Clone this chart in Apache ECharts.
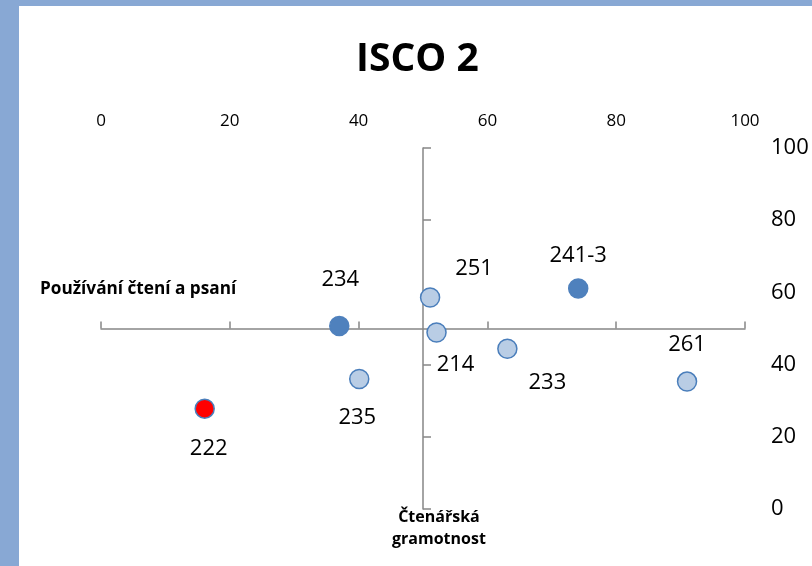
<!DOCTYPE html>
<html>
<head>
<meta charset="utf-8">
<script src="https://cdn.jsdelivr.net/npm/echarts@6/dist/echarts.min.js"></script>
<style>
html,body{margin:0;padding:0;background:#88A8D4;}
#wrap{position:absolute;left:19px;top:6px;width:793px;height:560px;background:#ffffff;}
#chart{position:absolute;left:-19px;top:-6px;width:812px;height:566px;}
</style>
</head>
<body>
<div id="wrap"><div id="chart"></div></div>
<script>
// ---- data ----
var pointNames = ['234', '235', '222', '251', '241-3', '214', '233', '261'];
var xValues = [37.0, 40.1, 16.1, 51.1, 74.1, 52.1, 63.1, 91.0];
var yValues = [50.7, 36.0, 27.8, 58.6, 61.1, 48.9, 44.4, 35.3];
var pointGroups = ['dark', 'light', 'red', 'light', 'dark', 'light', 'light', 'light'];
var xTicks = [0, 20, 40, 60, 80, 100];
var yTicks = [0, 20, 40, 60, 80, 100];
var titleText = 'ISCO 2';
var xAxisTitle = 'Používání čtení a psaní';
var yAxisTitle = 'Čtenářská\ngramotnost';
var crossX = 50, crossY = 50;

// ---- styles ----
var labelOffsets = [[1, -46], [-2, 39], [4, 40], [44, -29], [0, -33], [19, 32], [40, 34], [0, -37]];
var groupStyle = {
  light: {color: '#B9CDE5', borderColor: '#4A7EBB', borderWidth: 1.5, opacity: 1},
  dark: {color: '#4F81BD', borderColor: '#4F81BD', borderWidth: 1.5, opacity: 1},
  red: {color: '#FF0000', borderColor: '#4A7EBB', borderWidth: 1.5, opacity: 1}
};
var FONT = '"Open Sans", "Noto Sans", sans-serif';
var gridL = 101, gridR = 67, gridT = 148, gridB = 57;
var W = 812, H = 566;
var gridW = W - gridL - gridR, gridH = H - gridT - gridB;
var xMin = xTicks[0], xMax = xTicks[xTicks.length - 1];
var yMin = yTicks[0], yMax = yTicks[yTicks.length - 1];
var xInt = xTicks[1] - xTicks[0], yInt = yTicks[1] - yTicks[0];
var xLineOffset = -gridH * (crossY - yMin) / (yMax - yMin);
var yLineOffset = -gridW * (crossX - xMin) / (xMax - xMin);
var axisGray = '#868686';

var chart = echarts.init(document.getElementById('chart'), null, {renderer: 'canvas'});

var seriesData = pointNames.map(function (n, i) {
  return {
    name: n,
    value: [xValues[i], yValues[i]],
    itemStyle: groupStyle[pointGroups[i]],
    label: {offset: labelOffsets[i]}
  };
});

chart.setOption({
  backgroundColor: 'transparent',
  animation: false,
  title: {
    text: titleText,
    left: 351,
    top: 35,
    textStyle: {fontFamily: FONT, fontWeight: 'bold', fontSize: 39, color: '#000'}
  },
  grid: {left: gridL, right: gridR, top: gridT, bottom: gridB, containLabel: false},
  xAxis: [
    {
      type: 'value', position: 'top', min: xMin, max: xMax, interval: xInt,
      axisLine: {show: false}, axisTick: {show: false}, splitLine: {show: false},
      axisLabel: {show: true, margin: 18, fontFamily: FONT, fontSize: 17, color: '#000', lineHeight: 18}
    },
    {
      type: 'value', position: 'bottom', offset: xLineOffset, min: xMin, max: xMax, interval: xInt,
      axisLine: {show: true, onZero: false, lineStyle: {color: axisGray, width: 1.5}},
      axisTick: {show: true, inside: true, length: 7, lineStyle: {color: axisGray, width: 1.5}},
      axisLabel: {show: false}, splitLine: {show: false}
    }
  ],
  yAxis: [
    {
      type: 'value', position: 'right', min: yMin, max: yMax, interval: yInt,
      axisLine: {show: false}, axisTick: {show: false}, splitLine: {show: false},
      axisLabel: {show: true, margin: 26, align: 'left', fontFamily: FONT, fontSize: 22, color: '#000'}
    },
    {
      type: 'value', position: 'left', offset: yLineOffset, min: yMin, max: yMax, interval: yInt,
      axisLine: {show: true, onZero: false, lineStyle: {color: axisGray, width: 1.5}},
      axisTick: {show: true, inside: true, length: 8, lineStyle: {color: axisGray, width: 1.5}},
      axisLabel: {show: false}, splitLine: {show: false}
    }
  ],
  graphic: [
    {
      type: 'text', left: 40, top: 281,
      style: {text: xAxisTitle, font: 'bold 17.2px ' + FONT, fill: '#000'}
    },
    {
      type: 'text', left: 392, top: 506,
      style: {text: yAxisTitle, font: 'bold 16px ' + FONT, fill: '#000', textAlign: 'center', lineHeight: 22}
    }
  ],
  series: [{
    type: 'scatter',
    xAxisIndex: 1,
    yAxisIndex: 1,
    symbol: 'circle',
    symbolSize: 19,
    z: 5,
    itemStyle: {opacity: 1},
    label: {
      show: true,
      position: 'inside',
      formatter: function (p) { return p.name; },
      fontFamily: FONT, fontSize: 22, color: '#000'
    },
    data: seriesData
  }]
});
</script>
</body>
</html>
